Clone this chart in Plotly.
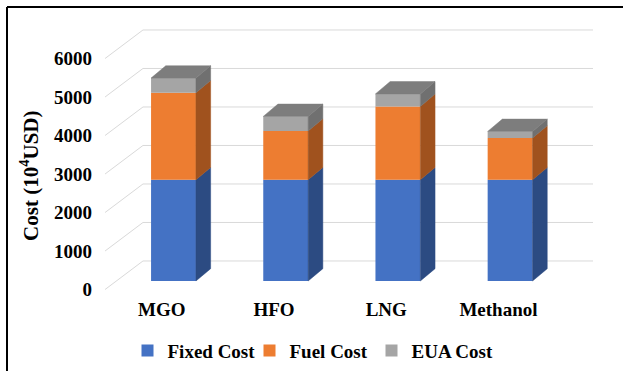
import plotly.graph_objects as go

# ---- data -------------------------------------------------------------
fuels = ["MGO", "HFO", "LNG", "Methanol"]
fixed_cost = [2630, 2630, 2630, 2630]
fuel_cost = [2260, 1265, 1905, 1085]
eua_cost = [380, 380, 325, 170]
y_ticks = [0, 1000, 2000, 3000, 4000, 5000, 6000]
series_names = ["Fixed Cost", "Fuel Cost", "EUA Cost"]

# ---- styling ------------------------------------------------------------
FONT = dict(family="Liberation Serif", size=19, color="black", weight="bold")
front_cols = ["#4472C4", "#ED7D31", "#A5A5A5"]
side_cols = ["#2C4B82", "#A0521E", "#707070"]
top_col = "#7D7D7D"
GRID = "#D9D9D9"

BAR_W = 0.4          # front face width (category units)
DX, DY = 0.131, 320  # bar depth (oblique offset)
WALL_X0 = -0.272     # left edge of back wall
WALL_DY = 520        # back wall height offset
FRONT_X0 = -0.61     # front edge of side wall
FRONT_DY = -221      # front edge offset of side wall
WALL_X1 = 3.739      # right edge of back wall

X_RANGE = [-0.6551, 3.8012]
Y_RANGE = [-389.6, 6779.2]
LABEL_SHIFT_X = 0.104

fig = go.Figure()

# back wall and side wall gridlines (drawn beneath the bars)
shapes = []
for v in y_ticks:
    shapes.append(dict(type="line", xref="x", yref="y", layer="below",
                       x0=WALL_X0, y0=v + WALL_DY, x1=WALL_X1, y1=v + WALL_DY,
                       line=dict(color=GRID, width=1)))
    shapes.append(dict(type="line", xref="x", yref="y", layer="below",
                       x0=FRONT_X0, y0=v + FRONT_DY, x1=WALL_X0, y1=v + WALL_DY,
                       line=dict(color=GRID, width=1)))

# outer frame (top and left edges)
shapes.append(dict(type="line", xref="paper", yref="paper",
                   x0=-0.186, y0=1.047, x1=1.1, y1=1.047,
                   line=dict(color="black", width=2)))
shapes.append(dict(type="line", xref="paper", yref="paper",
                   x0=-0.186, y0=1.047, x1=-0.186, y1=-0.35,
                   line=dict(color="black", width=2)))

series = [fixed_cost, fuel_cost, eua_cost]
idx = list(range(len(fuels)))

# stacked front faces
bases = [0] * len(fuels)
seg_bounds = []
for name, vals, col in zip(series_names, series, front_cols):
    fig.add_trace(go.Bar(x=idx, y=vals, base=bases, name=name, width=BAR_W,
                         marker=dict(color=col, line=dict(width=0))))
    seg_bounds.append([(b, b + v) for b, v in zip(bases, vals)])
    bases = [b + v for b, v in zip(bases, vals)]

# side faces for every segment
for k, bounds in enumerate(seg_bounds):
    xs, ys = [], []
    for i, (lo, hi) in zip(idx, bounds):
        xr = i + BAR_W / 2
        xs += [xr, xr + DX, xr + DX, xr, xr, None]
        ys += [lo, lo + DY, hi + DY, hi, lo, None]
    fig.add_trace(go.Scatter(x=xs, y=ys, mode="lines", fill="toself",
                             fillcolor=side_cols[k],
                             line=dict(color=side_cols[k], width=0.5),
                             showlegend=False, hoverinfo="skip"))

# top faces of the stacks
xs, ys = [], []
for i, top in zip(idx, bases):
    xl, xr = i - BAR_W / 2, i + BAR_W / 2
    xs += [xl, xl + DX, xr + DX, xr, xl, None]
    ys += [top, top + DY, top + DY, top, top, None]
fig.add_trace(go.Scatter(x=xs, y=ys, mode="lines", fill="toself",
                         fillcolor=top_col, line=dict(color=top_col, width=0.5),
                         showlegend=False, hoverinfo="skip"))

# helper traces so the label axes are rendered
fig.add_trace(go.Scatter(x=[None], y=[None], xaxis="x2", yaxis="y",
                         showlegend=False, hoverinfo="skip"))
fig.add_trace(go.Scatter(x=[None], y=[None], xaxis="x", yaxis="y2",
                         showlegend=False, hoverinfo="skip"))

fig.update_layout(
    width=623, height=371,
    margin=dict(l=100, r=23, t=20, b=75, autoexpand=False),
    paper_bgcolor="white", plot_bgcolor="white",
    barmode="overlay",
    showlegend=True,
    legend=dict(orientation="h", x=0.055, xanchor="left", y=-0.198,
                yanchor="middle", font=FONT, traceorder="normal",
                entrywidth=77, entrywidthmode="pixels",
                bgcolor="rgba(0,0,0,0)"),
    shapes=shapes,
    xaxis=dict(range=X_RANGE, showgrid=False, zeroline=False,
               showticklabels=False, showline=False, fixedrange=True),
    xaxis2=dict(range=[X_RANGE[0] + LABEL_SHIFT_X, X_RANGE[1] + LABEL_SHIFT_X],
                overlaying="x", anchor="y", side="bottom",
                tickvals=idx, ticktext=fuels, tickfont=FONT,
                showgrid=False, zeroline=False, showline=False, ticks=""),
    yaxis=dict(range=Y_RANGE, showgrid=False, zeroline=False,
               showticklabels=False, showline=False, fixedrange=True),
    yaxis2=dict(range=[Y_RANGE[0] - FRONT_DY, Y_RANGE[1] - FRONT_DY],
                overlaying="y", anchor="x", side="left",
                tickvals=y_ticks, ticktext=[str(t) for t in y_ticks],
                tickfont=FONT, ticks="", ticklabelstandoff=7,
                showgrid=False, zeroline=False, showline=False),
    annotations=[dict(text="Cost (10<sup>4</sup>USD)", textangle=-90,
                      xref="paper", yref="paper", x=-0.14, y=0.435,
                      xanchor="center", yanchor="middle", showarrow=False,
                      font=dict(family="Liberation Serif", size=21,
                                color="black", weight="bold"))],
)

fig.write_html("out.html")
